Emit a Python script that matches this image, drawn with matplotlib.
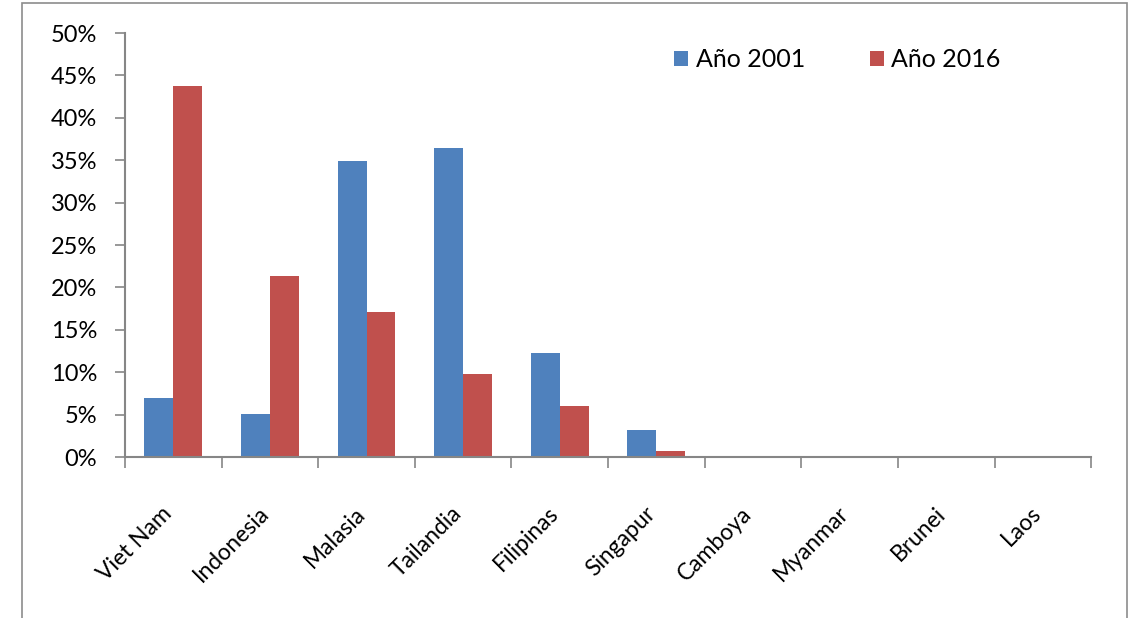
import numpy as np
import matplotlib.pyplot as plt
from matplotlib.patches import Rectangle
from matplotlib.ticker import PercentFormatter
from matplotlib.transforms import ScaledTranslation

plt.rcParams['font.family'] = ['Lato', 'DejaVu Sans']

countries = ['Viet Nam', 'Indonesia', 'Malasia', 'Tailandia', 'Filipinas',
             'Singapur', 'Camboya', 'Myanmar', 'Brunei', 'Laos']
share_2001 = [7.0, 5.1, 34.9, 36.4, 12.3, 3.2, 0, 0, 0, 0]
share_2016 = [43.8, 21.3, 17.1, 9.8, 6.0, 0.7, 0, 0, 0, 0]

blue = '#4F81BD'
red = '#C0504D'
axis_grey = '#868686'

fig = plt.figure(figsize=(11.3, 6.18), dpi=100)
ax = fig.add_axes([0.1106, 0.2605, 0.855, 0.686])

x = np.arange(len(countries))
w = 0.3
ax.bar(x - w / 2, share_2001, w, color=blue, label='Año 2001')
ax.bar(x + w / 2, share_2016, w, color=red, label='Año 2016')

ax.set_xlim(-0.5, len(countries) - 0.5)
ax.set_ylim(0, 50)
ax.set_yticks(np.arange(0, 51, 5))
ax.yaxis.set_major_formatter(PercentFormatter(decimals=0))

ax.set_xticks(x)
ax.set_xticks(np.arange(-0.5, len(countries), 1), minor=True)
ax.tick_params(axis='x', which='major', length=0, pad=33)
ax.tick_params(axis='x', which='minor', length=8, width=1.2, color=axis_grey)
ax.tick_params(axis='y', length=7, width=1.2, color=axis_grey, labelsize=17, pad=13)
ax.set_xticklabels(countries, rotation=45, ha='right', va='top',
                   rotation_mode='anchor', fontsize=16.5)
# nudge the slanted labels a little to the left
shift = ScaledTranslation(-12 / 100, 0, fig.dpi_scale_trans)
for lab in ax.get_xticklabels():
    lab.set_transform(lab.get_transform() + shift)

for side in ['top', 'right']:
    ax.spines[side].set_visible(False)
for side in ['left', 'bottom']:
    ax.spines[side].set_color(axis_grey)
    ax.spines[side].set_linewidth(1.5)

fig.legend(loc='center', bbox_to_anchor=(0.741, 0.903), ncol=2, frameon=False,
           fontsize=18, handlelength=0.55, handleheight=0.55, handletextpad=0.3,
           columnspacing=2.6)

# outer chart border (bottom edge lies off the picture)
fig.patches.append(Rectangle((22 / 1130, -0.02), 1105 / 1130, 1.015,
                             transform=fig.transFigure, fill=False,
                             edgecolor='#8c8c8c', linewidth=1.2))

fig.savefig('out.png', dpi=100)
